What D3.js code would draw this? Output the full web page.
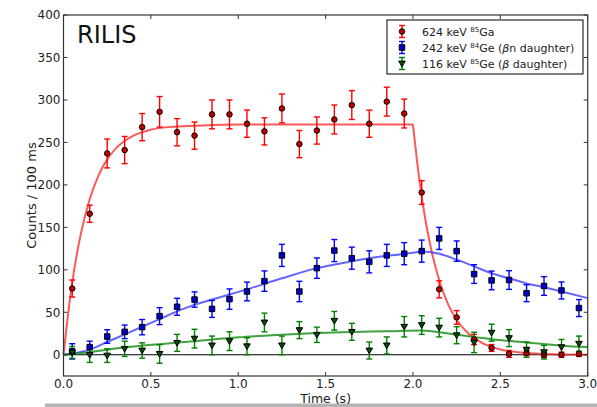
<!DOCTYPE html>
<html><head><meta charset="utf-8">
<script src="https://cdn.jsdelivr.net/npm/d3@7"></script>
<style>
html,body{margin:0;padding:0;background:#fff;}
svg{display:block;font-family:"DejaVu Sans",sans-serif;}
</style></head>
<body><svg id="chart" width="597" height="407"></svg>
<script>
// ---- data ----
const times = [0.05,0.15,0.25,0.35,0.45,0.55,0.65,0.75,0.85,0.95,1.05,1.15,1.25,1.35,1.45,1.55,1.65,1.75,1.85,1.95,2.05,2.15,2.25,2.35,2.45,2.55,2.65,2.75,2.85,2.95];
const gaVals = [78,166,237,241,268,286,262,258,283,283,272,263,290,248,264,277,294,272,298,284,191,77,44,18,8,1,2,0,0,1];
const gaErr  = [10,10,17,16,16,18,16,16,17,17,16,16,17,16,16,17,17,16,17,17,14,10,8,6,4,4,3,3,3,3];
const ge84Vals = [4,9,21.5,27,32.5,45.5,56.5,65,54,65.5,74.5,86.7,117,74.5,102,122.7,113.7,109.4,117,119,122,137,122,95,87.5,88,72.5,81,75.7,55];
const ge84Err  = [9,7,8,8,9,10,10,9,10,12,11,12,13,12,12,13,13,13,13,13,13,13,12,11,11,11,10,11,10,10];
const ge85Vals = [2.7,0,-1,7,5,1,14,19,11,16,10,38,11,29,23.5,40,27,5,11,33,35,32,23,14.5,26,19.6,6,3,9,13];
const ge85Err  = [7,9,8,9,9,11,10,11,11,11,10,11,11,10,9,11,10,10,10,12,11,11,10,12,10,10,9,8,9,9];

// fitted curves
const gaFitRiseT = [0,0.025,0.05,0.075,0.1,0.15,0.2,0.25,0.3,0.4,0.5,0.6,0.8,1.0,1.5,2.0];
const gaFitRise  = [0,46,85,117,143,183,211,230,243,258,265,268,270,271,271,271];
const gaFitDecT  = [2.0,2.025,2.05,2.1,2.15,2.2,2.25,2.3,2.4,2.5,2.6,2.7,2.8,3.0];
const gaFitDec   = [271,225,186,128,88,60,41,28.5,13.4,6.3,3,1.4,0.6,0.1];
const ge84FitT = [0,0.05,0.15,0.25,0.35,0.45,0.55,0.65,0.75,0.85,0.95,1.05,1.25,1.45,1.65,1.85,2.0,2.05,2.15,2.25,2.35,2.45,2.55,2.65,2.75,2.85,3.0];
const ge84Fit  = [0,1.5,6,15,24,33,42,51,59,65,71,77,90,102,110,116.5,120,121.5,119,112,104,96,90,84,79.6,74.5,66.7];
const ge85FitT = [0,0.05,0.15,0.25,0.35,0.55,0.75,1.0,1.25,1.45,1.65,1.85,2.05,2.25,2.45,2.65,2.85,3.0];
const ge85Fit  = [0,1,3,6,8.5,12.5,16,20.5,23.5,25.5,26.8,27.6,28.6,23.5,18.4,14.5,10.6,9];

const xTicks = [0.0,0.5,1.0,1.5,2.0,2.5,3.0];
const yTicks = [0,50,100,150,200,250,300,350,400];

// ---- layout ----
const svg = d3.select("#chart");
const L = 63.5, R = 587.7, T = 15, B = 376;
const x = d3.scaleLinear().domain([0,3]).range([L,R]);
const y = d3.scaleLinear().domain([-25,400]).range([B,T]);

// bottom gray band
svg.append("rect").attr("x",45).attr("y",403.5).attr("width",552).attr("height",3.5).attr("fill","#b4b4b4");

const plot = svg.append("g");
plot.append("rect").attr("x",L).attr("y",T).attr("width",R-L).attr("height",B-T).attr("fill","#fff");

// zero line
plot.append("line").attr("x1",L).attr("x2",R).attr("y1",y(0)).attr("y2",y(0)).attr("stroke","#000").attr("stroke-width",1);

const line = d3.line().x(d=>x(d[0])).y(d=>y(d[1])).curve(d3.curveMonotoneX);
function fit(ts, vs, color, op){
  plot.append("path").datum(ts.map((t,i)=>[t,vs[i]]))
    .attr("d",line).attr("fill","none").attr("stroke",color)
    .attr("stroke-width",2).attr("stroke-opacity",op);
}
fit(gaFitRiseT, gaFitRise, "#ff2020", 0.75);
fit(gaFitDecT, gaFitDec, "#ff2020", 0.75);
fit(ge84FitT, ge84Fit, "#3030ff", 0.75);
fit(ge85FitT, ge85Fit, "#108a10", 0.8);

function errbars(vals, errs, color){
  const g = plot.append("g").attr("stroke",color).attr("stroke-width",1.4);
  times.forEach((t,i)=>{
    const cx = x(t), y1 = y(vals[i]-errs[i]), y2 = y(vals[i]+errs[i]);
    g.append("line").attr("x1",cx).attr("x2",cx).attr("y1",y1).attr("y2",y2);
    g.append("line").attr("x1",cx-3).attr("x2",cx+3).attr("y1",y1).attr("y2",y1);
    g.append("line").attr("x1",cx-3).attr("x2",cx+3).attr("y1",y2).attr("y2",y2);
  });
}
errbars(gaVals, gaErr, "#ff0000");
errbars(ge84Vals, ge84Err, "#0000ff");
errbars(ge85Vals, ge85Err, "#008000");

const symCircle = d3.symbol().type(d3.symbolCircle).size(24);
const symSquare = d3.symbol().type(d3.symbolSquare).size(30);
const triDown = "M-3.3,-2.4L3.3,-2.4L0,3.3Z";
function markers(vals, pathD, fill){
  plot.append("g").selectAll("path").data(vals).join("path")
    .attr("d",pathD).attr("transform",(d,i)=>`translate(${x(times[i])},${y(d)})`)
    .attr("fill",fill).attr("stroke","#000").attr("stroke-width",1);
}
markers(gaVals, symCircle(), "#c00000");
markers(ge84Vals, symSquare(), "#0000cc");
markers(ge85Vals, triDown, "#0a4a0a");

// frame
plot.append("rect").attr("x",L).attr("y",T).attr("width",R-L).attr("height",B-T)
  .attr("fill","none").attr("stroke","#333").attr("stroke-width",1.2);

// ticks (inward, all sides)
const tk = svg.append("g").attr("stroke","#333").attr("stroke-width",1);
xTicks.forEach(v=>{
  tk.append("line").attr("x1",x(v)).attr("x2",x(v)).attr("y1",B).attr("y2",B-4);
  tk.append("line").attr("x1",x(v)).attr("x2",x(v)).attr("y1",T).attr("y2",T+4);
});
yTicks.forEach(v=>{
  tk.append("line").attr("x1",L).attr("x2",L+4).attr("y1",y(v)).attr("y2",y(v));
  tk.append("line").attr("x1",R).attr("x2",R-4).attr("y1",y(v)).attr("y2",y(v));
});
// tick labels
svg.append("g").selectAll("text").data(xTicks).join("text")
  .attr("x",d=>x(d)).attr("y",387.5).attr("text-anchor","middle")
  .attr("font-size",12).attr("fill","#222").text(d=>d.toFixed(1));
svg.append("g").selectAll("text").data(yTicks).join("text")
  .attr("x",L-3).attr("y",d=>y(d)+4.3).attr("text-anchor","end")
  .attr("font-size",12).attr("fill","#222").text(d=>d);

// axis titles
svg.append("text").attr("x",(L+R)/2).attr("y",402.5).attr("text-anchor","middle")
  .attr("font-size",12.5).attr("fill","#222").text("Time (s)");
svg.append("text").attr("transform",`translate(36,${(T+B)/2}) rotate(-90)`)
  .attr("text-anchor","middle").attr("font-size",13).attr("fill","#222").text("Counts / 100 ms");

// RILIS
svg.append("text").attr("x",77).attr("y",43).attr("font-size",24).attr("fill","#111").text("RILIS");

// legend
const lg = svg.append("g");
lg.append("rect").attr("x",387).attr("y",20).attr("width",196).attr("height",54)
  .attr("fill","#fff").attr("stroke","#000").attr("stroke-width",1);
const entries = [
  {y:31.5, color:"#ff0000", sym:symCircle(), fill:"#c00000", parts:[["624 keV ",0],["85",1],["Ga",0]]},
  {y:47.5, color:"#0000ff", sym:symSquare(), fill:"#0000cc", parts:[["242 keV ",0],["84",1],["Ge (",0],["β",2],["n daughter)",0]]},
  {y:63.5, color:"#008000", sym:triDown, fill:"#0a4a0a", parts:[["116 keV ",0],["85",1],["Ge (",0],["β",2],[" daughter)",0]]}
];
entries.forEach(e=>{
  const g = lg.append("g").attr("stroke",e.color).attr("stroke-width",1.4);
  const cx = 402;
  g.append("line").attr("x1",cx).attr("x2",cx).attr("y1",e.y-6).attr("y2",e.y+6);
  g.append("line").attr("x1",cx-3).attr("x2",cx+3).attr("y1",e.y-6).attr("y2",e.y-6);
  g.append("line").attr("x1",cx-3).attr("x2",cx+3).attr("y1",e.y+6).attr("y2",e.y+6);
  lg.append("path").attr("d",e.sym).attr("transform",`translate(${cx},${e.y})`)
    .attr("fill",e.fill).attr("stroke","#000").attr("stroke-width",1);
  const t = lg.append("text").attr("x",422).attr("y",e.y+4).attr("font-size",11).attr("fill","#222");
  let afterSup = false;
  e.parts.forEach(p=>{
    const ts = t.append("tspan").text(p[0]);
    if(p[1]===1){ ts.attr("font-size",7).attr("dy",-4); afterSup = true; }
    else {
      if(afterSup){ ts.attr("dy",4); afterSup = false; }
      if(p[1]===2){ ts.attr("font-style","italic"); }
    }
  });
});
</script></body></html>
